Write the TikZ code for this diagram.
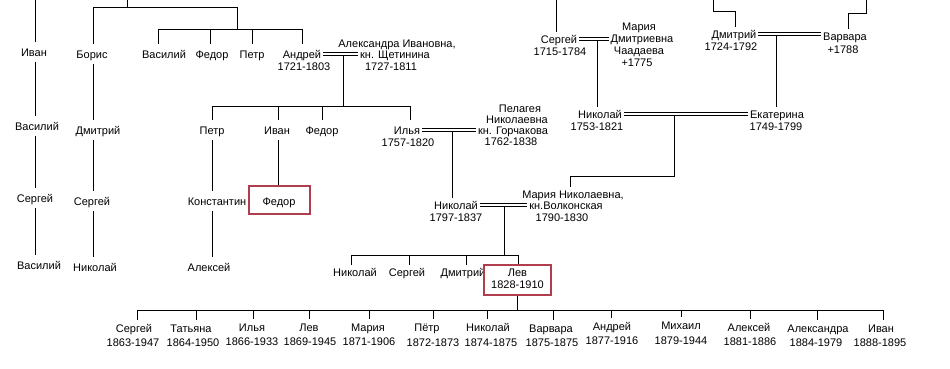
\documentclass[tikz,border=0pt]{standalone}
\usepackage{fontspec}
\setmainfont{Liberation Sans}
\definecolor{boxred}{RGB}{176,62,76}
\begin{document}
\begin{tikzpicture}[x=1pt,y=-1pt,
  lbl/.style={font=\fontsize{11}{12}\selectfont, inner sep=0pt, text height=8pt, text depth=0pt, outer xsep=2pt, outer ysep=6pt},
  lbln/.style={lbl, outer ysep=3.5pt},
  lblb/.style={lbl, outer ysep=4.5pt},
  redbox/.style={draw=boxred, line width=2pt, inner sep=0pt, font=\fontsize{11}{12}\selectfont},
  link/.style={draw=black, line width=0.9pt},
  wed/.style={draw=black, double=white, double distance=1.6pt, line width=0.9pt}]
\fill[white] (0,0) rectangle (950,368);
\useasboundingbox (0,0) rectangle (950,368);

% ---------- nodes: left columns ----------
\node[lbl] (ivan1) at (34,52) {Иван};
\node[lbl] (vas1) at (37,126) {Василий};
\node[lbl] (ser1) at (35,198) {Сергей};
\node[lbl] (vas2) at (39,265) {Василий};
\node[lbl] (boris) at (92,54) {Борис};
\node[lbl] (dmit1) at (98,130) {Дмитрий};
\node[lbl] (ser2) at (92,201) {Сергей};
\node[lbl] (nik1) at (95,267) {Николай};
% top row
\node[lbl] (vas3) at (164,54) {Василий};
\node[lbl] (fed1) at (212,54) {Федор};
\node[lbl] (petr1) at (252,54) {Петр};
\node[lbl] (andr) at (302,54) {Андрей};
\node[lbl] (andrY) at (304,66) {1721-1803};
\node[lbl] (alexA) at (397,43) {Александра Ивановна,};
\node[lbl] (alexB) at (395,54) {кн. Щетинина};
\node[lbl] (alexY) at (391,66) {1727-1811};
% level 2
\node[lbl] (petr2) at (212,130) {Петр};
\node[lbl] (ivan2) at (277,130) {Иван};
\node[lbl] (fed2) at (322,130) {Федор};
\node[lbl] (ilya) at (407,130) {Илья};
\node[lbl] (ilyaY) at (408,142) {1757-1820};
\node[lbl] (pelA) at (520,108) {Пелагея};
\node[lbl] (pelB) at (517,119) {Николаевна};
\node[lbl] (pelC) at (513,130) {кн. Горчакова};
\node[lbl] (pelY) at (511,141) {1762-1838};
\node[lbl] (konst) at (217,201) {Константин};
\node[redbox, text height=11pt, text depth=0pt, minimum width=61pt, minimum height=28pt] (fedbox) at (279,199.5) {Федор};
\node[lbl] (alek) at (209,267) {Алексей};
% Nikolay 1797
\node[lbln] (nikN) at (456,205) {Николай};
\node[lbl] (nikNY) at (456,217) {1797-1837};
\node[lbln] (marA) at (573,194) {Мария Николаевна,};
\node[lbl] (marB) at (566,205) {кн.Волконская};
\node[lbl] (marY) at (562,217) {1790-1830};
\node[lbln] (c1) at (355,272) {Николай};
\node[lbln] (c2) at (407,272) {Сергей};
\node[lbln] (c3) at (463,272) {Дмитрий};
\node[redbox, align=center, text height=17pt, minimum width=67pt, minimum height=30pt] (lev) at (517.5,280) {Лев\\1828-1910};
% right side
\node[lbln] (ser3) at (559,39) {Сергей};
\node[lbl] (ser3Y) at (560,51) {1715-1784};
\node[lbl] (mdA) at (639,26) {Мария};
\node[lbl] (mdB) at (642,38) {Дмитриевна};
\node[lbl] (mdC) at (639,50) {Чаадаева};
\node[lbl] (mdY) at (637,62) {+1775};
\node[lbln] (nik2) at (600,114) {Николай};
\node[lbl] (nik2Y) at (597,126) {1753-1821};
\node[lbln] (ekat) at (777,114) {Екатерина};
\node[lbl] (ekatY) at (776,126) {1749-1799};
\node[lbln] (dm2) at (734,34) {Дмитрий};
\node[lbl] (dm2Y) at (731,46) {1724-1792};
\node[lbln] (varv) at (845,36) {Варвара};
\node[lbl] (varvY) at (843,49) {+1788};
% bottom row
\node[lblb] (s1) at (134,328) {Сергей};      \node[lbl] (s1y) at (133,342) {1863-1947};
\node[lblb] (s2) at (191,328) {Татьяна};     \node[lbl] (s2y) at (193,342) {1864-1950};
\node[lblb] (s3) at (252,327) {Илья};        \node[lbl] (s3y) at (252,341) {1866-1933};
\node[lblb] (s4) at (309,327) {Лев};         \node[lbl] (s4y) at (310,341) {1869-1945};
\node[lblb] (s5) at (368,327) {Мария};       \node[lbl] (s5y) at (369,341) {1871-1906};
\node[lblb] (s6) at (427,327) {Пётр};        \node[lbl] (s6y) at (433,342) {1872-1873};
\node[lblb] (s7) at (488,327) {Николай};     \node[lbl] (s7y) at (491,342) {1874-1875};
\node[lblb] (s8) at (551,328) {Варвара};     \node[lbl] (s8y) at (552,342) {1875-1875};
\node[lblb] (s9) at (612,326) {Андрей};      \node[lbl] (s9y) at (612,340) {1877-1916};
\node[lblb] (s10) at (681,325) {Михаил};     \node[lbl] (s10y) at (681,340) {1879-1944};
\node[lblb] (s11) at (749,327) {Алексей};    \node[lbl] (s11y) at (750,341) {1881-1886};
\node[lblb] (s12) at (818,328) {Александра}; \node[lbl] (s12y) at (816,342) {1884-1979};
\node[lblb] (s13) at (881,328) {Иван};       \node[lbl] (s13y) at (880,342) {1888-1895};

% ---------- junction coordinates ----------
\coordinate (t0) at (127,0);  \coordinate (t1) at (127,7);
\coordinate (t1l) at (93,7);  \coordinate (t1r) at (237,7);
\coordinate (t2) at (237,29);
\coordinate (t2a) at (158,29); \coordinate (t2b) at (210,29);
\coordinate (t2c) at (252,29); \coordinate (t2d) at (302,29);
\coordinate (ca) at (35,0);
\coordinate (mA) at (343,54);
\coordinate (h2l) at (212,106); \coordinate (h2i) at (278,106);
\coordinate (h2f) at (322,106); \coordinate (h2m) at (343,106);
\coordinate (h2r) at (410,106);
\coordinate (mI) at (452,130);
\coordinate (mN) at (504,205);  \coordinate (h3m) at (504,255);
\coordinate (h3l) at (351,255); \coordinate (h3b) at (409,255);
\coordinate (h3c) at (466,255); \coordinate (h3r) at (518,255);
\coordinate (h4l) at (137,310); \coordinate (h4r) at (883,310);
\coordinate (r0) at (556,0);
\coordinate (mS) at (597,39);
\coordinate (mK) at (674,114); \coordinate (k1) at (674,176); \coordinate (k2) at (570,176);
\coordinate (d0) at (713,0); \coordinate (d1) at (713,11); \coordinate (d2) at (735,11);
\coordinate (mD) at (776,34);
\coordinate (v0) at (866,0); \coordinate (v1) at (866,13); \coordinate (v2) at (848,13);

% ---------- connectors ----------
% column A
\draw[link] (ca) -- (ca |- ivan1.north);
\draw[link] (ca |- ivan1.south) -- (ca |- vas1.north);
\draw[link] (ca |- vas1.south) -- (ca |- ser1.north);
\draw[link] (ca |- ser1.south) -- (ca |- vas2.north);
% top-left tree
\draw[link] (t0) -- (t1);
\draw[link] (t1l) -- (t1r);
\draw[link] (t1r) -- (t2);
\draw[link] (t1l) -- (t1l |- boris.north);
\draw[link] (t1l |- boris.south) -- (t1l |- dmit1.north);
\draw[link] (t1l |- dmit1.south) -- (t1l |- ser2.north);
\draw[link] (t1l |- ser2.south) -- (t1l |- nik1.north);
\draw[link] (t2a) -- (t2d);
\foreach \c/\n in {t2a/vas3, t2b/fed1, t2c/petr1, t2d/andr}
  \draw[link] (\c) -- (\c |- \n.north);
% Andrey's family
\draw[link] (mA) -- (h2m);
\draw[wed] (andr.east) -- (alexB.west);
\draw[link] (h2l) -- (h2r);
\foreach \c/\n in {h2l/petr2, h2i/ivan2, h2f/fed2, h2r/ilya}
  \draw[link] (\c) -- (\c |- \n.north);
\draw[link] (h2l |- petr2.south) -- (h2l |- konst.north);
\draw[link] (h2l |- konst.south) -- (h2l |- alek.north);
\draw[link] (h2i |- ivan2.south) -- (h2i |- fedbox.north);
% Ilya's family
\draw[link] (mI) -- (mI |- nikN.north);
\draw[wed] (ilya.east) -- (ilya.east -| pelC.west);
% Nikolay 1797
\draw[link] (mN) -- (h3m);
\draw[wed] (nikN.east) -- (nikN.east -| marB.west);
\draw[link] (h3l) -- (h3r);
\foreach \c/\n in {h3l/c1, h3b/c2, h3c/c3, h3r/lev}
  \draw[link] (\c) -- (\c |- \n.north);
% Lev's children
\draw[link] (lev.south) -- (lev.south |- h4l);
\draw[link] (h4l) -- (h4r);
\foreach \x/\n in {137/s1, 196/s2, 253/s3, 309/s4, 369/s5, 433/s6, 487/s7, 553/s8, 611/s9, 681/s10, 750/s11, 817/s12, 883/s13}
  \draw[link] (\x,310) -- (\x,310 |- \n.north);
% right side
\draw[link] (r0) -- (r0 |- ser3.north);
\draw[link] (mS) -- (mS |- nik2.north);
\draw[wed] (ser3.east) -- (ser3.east -| mdB.west);
\draw[link] (mK) -- (k1) -- (k2) -- (k2 |- marA.north);
\draw[wed] (nik2.east) -- (nik2.east -| ekat.west);
\draw[link] (d0) -- (d1) -- (d2) -- (d2 |- dm2.north);
\draw[link] (mD) -- (mD |- ekat.north);
\draw[wed] (dm2.east) -- (dm2.east -| varv.west);
\draw[link] (v0) -- (v1) -- (v2) -- (v2 |- varv.north);
\end{tikzpicture}
\end{document}
